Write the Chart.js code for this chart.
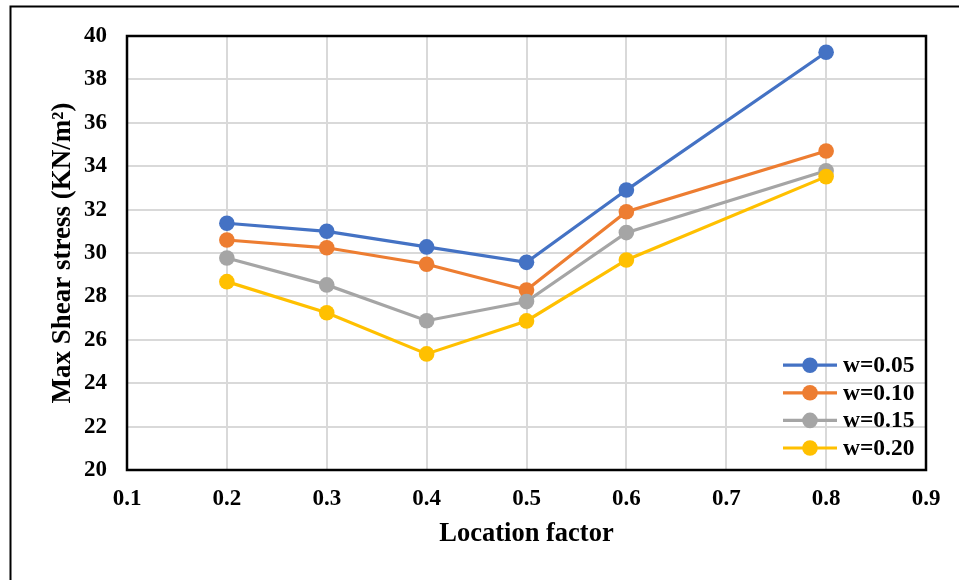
<!DOCTYPE html>
<html>
<head>
<meta charset="utf-8">
<script src="https://cdn.jsdelivr.net/npm/chart.js@4.4.3/dist/chart.umd.min.js"></script>
<style>
  html, body { margin: 0; padding: 0; background: #fff; }
  #wrap { width: 959px; height: 580px; }
</style>
</head>
<body>
<div id="wrap"><canvas id="chart" width="959" height="580"></canvas></div>
<script>

// Location factor positions on the x axis.
const locations = [0.2, 0.3, 0.4, 0.5, 0.6, 0.8]

// Max shear stress (KN/m²) for each w value.
const w005 = [31.37, 31.00, 30.28, 29.57, 32.90, 39.25]
const w010 = [30.60, 30.24, 29.48, 28.29, 31.90, 34.70]
const w015 = [29.77, 28.53, 26.88, 27.76, 30.94, 33.79]
const w020 = [28.68, 27.25, 25.35, 26.87, 29.68, 33.52]

const seriesLabels = ['w=0.05', 'w=0.10', 'w=0.15', 'w=0.20']
const seriesColors = ['#4472C4', '#ED7D31', '#A5A5A5', '#FFC000']

const serif = "'Liberation Serif', 'Times New Roman', serif"

// Build a line dataset from the location and stress arrays.
function series(i, values) {
  return {
    label: seriesLabels[i],
    data: locations.map((x, n) => ({ x, y: values[n] })),
    borderColor: seriesColors[i],
    backgroundColor: seriesColors[i],
    borderWidth: 3.2,
    pointRadius: 7.8,
    pointBorderWidth: 0,
    pointHoverRadius: 7.8,
    tension: 0,
    // Later series sit on top.
    order: 4 - i
  }
}

// Legend drawn inside the plot, bottom right, with line + marker swatches.
const insideLegend = {
  id: 'insideLegend',
  afterDatasetsDraw(chart) {
    const { ctx, chartArea } = chart
    const rowH = 27.6
    const datasets = chart.data.datasets
    const x0 = chartArea.right - 143
    const yLast = chartArea.bottom - 22
    ctx.save()
    ctx.font = `bold 23.5px ${serif}`
    ctx.textBaseline = 'middle'
    ctx.textAlign = 'left'
    datasets.forEach((ds, i) => {
      const y = yLast - (datasets.length - 1 - i) * rowH
      ctx.strokeStyle = ds.borderColor
      ctx.lineWidth = 3.2
      ctx.beginPath()
      ctx.moveTo(x0, y)
      ctx.lineTo(x0 + 54, y)
      ctx.stroke()
      ctx.fillStyle = ds.backgroundColor
      ctx.beginPath()
      ctx.arc(x0 + 27, y, 7.8, 0, Math.PI * 2)
      ctx.fill()
      ctx.fillStyle = '#000'
      ctx.fillText(ds.label, x0 + 60, y + 1)
    })
    ctx.restore()
  }
}

// Black box round the plot and the outer frame lines.
const frames = {
  id: 'frames',
  beforeDatasetsDraw(chart) {
    const { ctx, chartArea } = chart
    ctx.save()
    ctx.strokeStyle = '#000'
    ctx.lineWidth = 2.5
    ctx.strokeRect(chartArea.left, chartArea.top,
      chartArea.right - chartArea.left, chartArea.bottom - chartArea.top)
    ctx.restore()
  },
  afterDraw(chart) {
    const { ctx } = chart
    ctx.save()
    ctx.strokeStyle = '#000'
    ctx.lineWidth = 2
    ctx.beginPath()
    ctx.moveTo(10.5, 580)
    ctx.lineTo(10.5, 6.5)
    ctx.lineTo(959, 6.5)
    ctx.stroke()
    ctx.restore()
  }
}

new Chart(document.getElementById('chart'), {
  type: 'line',
  data: {
    datasets: [
      series(0, w005),
      series(1, w010),
      series(2, w015),
      series(3, w020)
    ]
  },
  options: {
    responsive: false,
    animation: false,
    layout: { padding: { top: 36, right: 33, left: 0, bottom: 0 } },
    plugins: {
      legend: { display: false },
      tooltip: { enabled: false }
    },
    scales: {
      x: {
        type: 'linear',
        min: 0.1,
        max: 0.9,
        afterFit: scale => { scale.height = 110 },
        ticks: {
          stepSize: 0.1,
          padding: 15,
          color: '#000',
          font: { family: serif, size: 23, weight: 'bold' },
          callback: v => v.toFixed(1)
        },
        grid: { color: '#d9d9d9', lineWidth: 2, drawTicks: false },
        border: { display: false },
        title: {
          display: true,
          text: 'Location factor',
          color: '#000',
          font: { family: serif, size: 26.5, weight: 'bold' },
          padding: { top: 0, bottom: 30 }
        }
      },
      y: {
        min: 20,
        max: 40,
        afterFit: scale => { scale.width = 127 },
        ticks: {
          stepSize: 2,
          padding: 20,
          color: '#000',
          font: { family: serif, size: 23, weight: 'bold' }
        },
        grid: { color: '#d9d9d9', lineWidth: 2, drawTicks: false },
        border: { display: false },
        title: {
          display: true,
          text: 'Max Shear stress (KN/m²)',
          color: '#000',
          font: { family: serif, size: 27, weight: 'bold' },
          padding: { top: 47, bottom: 0 }
        }
      }
    }
  },
  plugins: [frames, insideLegend]
})
</script>
</body>
</html>
